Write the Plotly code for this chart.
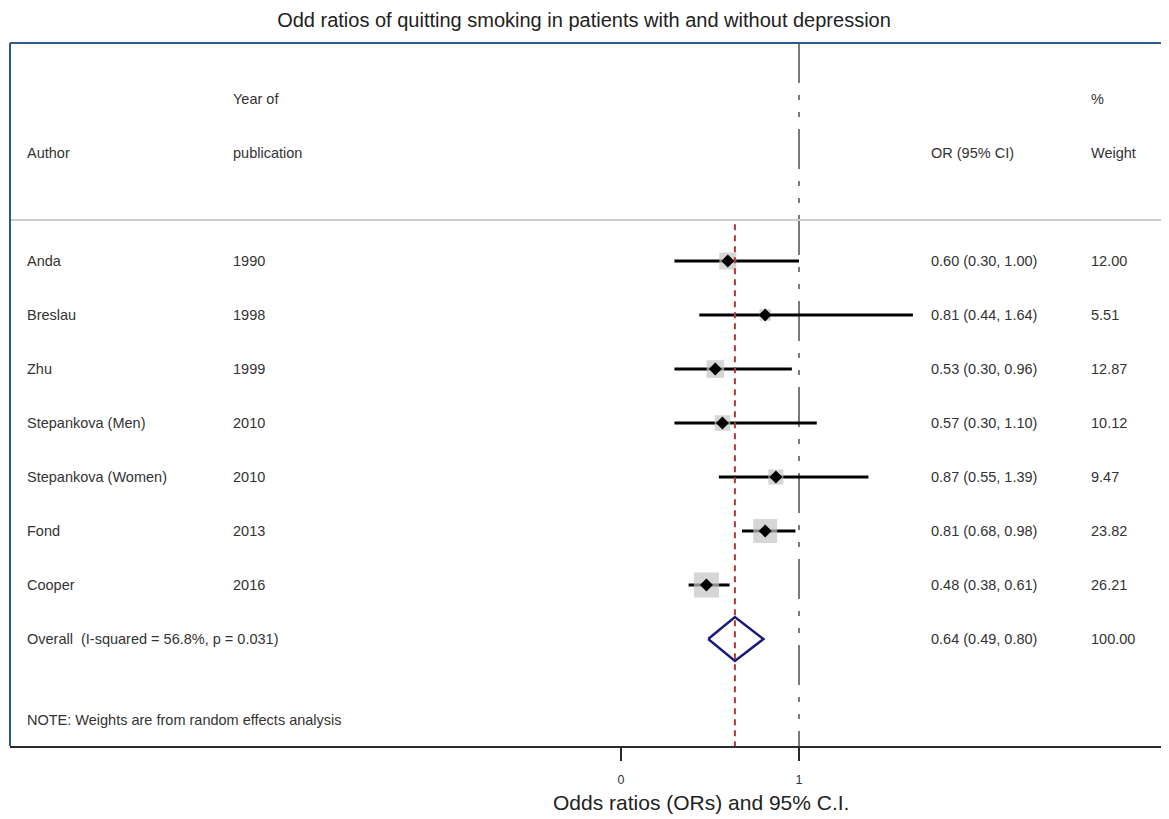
import plotly.graph_objects as go
import math

# ---- data ----
authors = ["Anda", "Breslau", "Zhu", "Stepankova (Men)", "Stepankova (Women)", "Fond", "Cooper"]
years = ["1990", "1998", "1999", "2010", "2010", "2013", "2016"]
or_vals = [0.60, 0.81, 0.53, 0.57, 0.87, 0.81, 0.48]
ci_low = [0.30, 0.44, 0.30, 0.30, 0.55, 0.68, 0.38]
ci_high = [1.00, 1.64, 0.96, 1.10, 1.39, 0.98, 0.61]
weights = [12.00, 5.51, 12.87, 10.12, 9.47, 23.82, 26.21]
overall_label = "Overall  (I-squared = 56.8%, p = 0.031)"
overall_or = 0.64
overall_low = 0.49
overall_high = 0.80
overall_weight = 100.00
note = "NOTE: Weights are from random effects analysis"
x_ticks = [0, 1]

FONT = "Liberation Sans, Arial, sans-serif"
TXT = "#333333"

n = len(authors)
rows = list(range(n))
overall_row = n

fig = go.Figure()

# CI lines
for i in rows:
    fig.add_trace(go.Scatter(x=[ci_low[i], ci_high[i]], y=[i, i], mode="lines",
                             line=dict(color="black", width=3), showlegend=False, hoverinfo="skip"))

# weight boxes
fig.add_trace(go.Scatter(x=or_vals, y=rows, mode="markers",
                         marker=dict(symbol="square", color="#c4c4c4",
                                     size=[4.9 * math.sqrt(w) for w in weights], line=dict(width=0)),
                         showlegend=False, hoverinfo="skip"))
# point estimates
fig.add_trace(go.Scatter(x=or_vals, y=rows, mode="markers",
                         marker=dict(symbol="diamond", color="black", size=10),
                         showlegend=False, hoverinfo="skip"))

# overall diamond
h = 0.407
fig.add_trace(go.Scatter(x=[overall_low, overall_or, overall_high, overall_or, overall_low],
                         y=[overall_row, overall_row - h, overall_row, overall_row + h, overall_row],
                         mode="lines", line=dict(color="#1a1a78", width=2.5),
                         showlegend=False, hoverinfo="skip"))

y_top = -4.037
y_bot = 8.981

# reference lines
fig.add_shape(type="line", x0=1, x1=1, y0=y_top, y1=y_bot, xref="x", yref="y",
              line=dict(color="#7a7a7a", width=2, dash="40px,12px,5px,12px,5px,12px"), layer="below")
fig.add_shape(type="line", x0=overall_or, x1=overall_or, y0=-0.68, y1=y_bot, xref="x", yref="y",
              line=dict(color="#b03a3a", width=2, dash="6px,5px"), layer="above")
# header separator
fig.add_shape(type="line", x0=0, x1=1, y0=-0.759, y1=-0.759, xref="paper", yref="y",
              line=dict(color="#cccccc", width=2))
# frame (top, left)
fig.add_shape(type="line", x0=0, x1=1, y0=1, y1=1, xref="paper", yref="paper",
              line=dict(color="#2a5a8c", width=2))
fig.add_shape(type="line", x0=0, x1=0, y0=0, y1=1, xref="paper", yref="paper",
              line=dict(color="#2a5a8c", width=2))

# text columns
col_author = -3.348
col_year = -2.191
col_or = 1.730
col_w = 2.629

def txt(x, y, s):
    fig.add_annotation(x=x, y=y, xref="x", yref="y", text=s, showarrow=False,
                       xanchor="left", yanchor="middle", font=dict(family=FONT, size=14.5, color=TXT))

txt(col_year, -3, "Year of")
txt(col_w, -3, "%")
txt(col_author, -2, "Author")
txt(col_year, -2, "publication")
txt(col_or, -2, "OR (95% CI)")
txt(col_w, -2, "Weight")

for i in rows:
    txt(col_author, i, authors[i])
    txt(col_year, i, years[i])
    txt(col_or, i, f"{or_vals[i]:.2f} ({ci_low[i]:.2f}, {ci_high[i]:.2f})")
    txt(col_w, i, f"{weights[i]:.2f}")

txt(col_author, overall_row, overall_label)
txt(col_or, overall_row, f"{overall_or:.2f} ({overall_low:.2f}, {overall_high:.2f})")
txt(col_w, overall_row, f"{overall_weight:.2f}")
txt(col_author, 8.5, note)

# x-axis title
fig.add_annotation(x=0.45, y=-0.081, xref="x", yref="paper", text="Odds ratios (ORs) and 95% C.I.",
                   showarrow=False, xanchor="center", yanchor="middle",
                   font=dict(family=FONT, size=21, color="#222222"))

fig.update_layout(
    width=1161, height=811,
    margin=dict(l=2, r=0, t=35, b=73),
    paper_bgcolor="white", plot_bgcolor="white",
    title=dict(text="Odd ratios of quitting smoking in patients with and without depression",
               x=576 / 1161, xref="container", xanchor="center",
               y=1 - 12 / 811, yref="container", yanchor="middle",
               font=dict(family=FONT, size=20, color="#222222")),
    xaxis=dict(range=[-3.4326, 3.0787], tickvals=x_ticks, ticktext=[str(t) for t in x_ticks],
               showgrid=False, zeroline=False, showline=True, linecolor="#2b2b2b", linewidth=2,
               ticks="outside", ticklen=13, tickwidth=2, tickcolor="#2b2b2b",
               ticklabelstandoff=8,
               tickfont=dict(family=FONT, size=12.5, color=TXT), fixedrange=True),
    yaxis=dict(range=[y_bot, y_top], showgrid=False, zeroline=False, showticklabels=False,
               showline=False, fixedrange=True),
)

fig.write_html("out.html")
